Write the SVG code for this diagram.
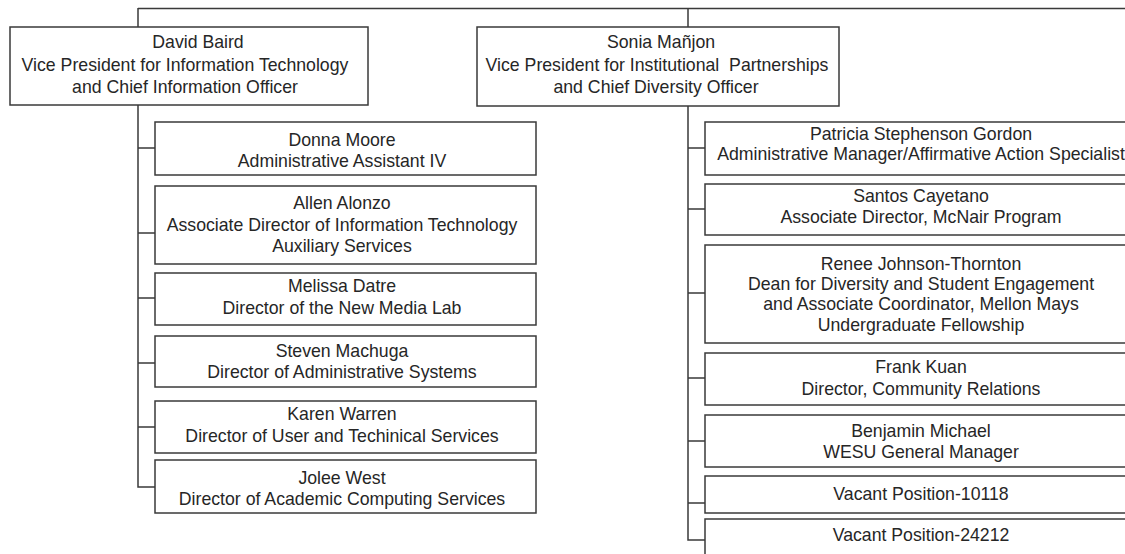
<svg xmlns="http://www.w3.org/2000/svg" width="1125" height="554" viewBox="0 0 1125 554">
<style>
.box{fill:#fff;stroke:#3a3a3a;stroke-width:1.5}
.ln{fill:none;stroke:#3a3a3a;stroke-width:1.5}
text{font-family:"Liberation Sans",Arial,sans-serif;font-size:17.7px;fill:#262626;text-anchor:middle}
</style>
<rect width="1125" height="554" fill="#fff"/>
<g id="connectors">
<path class="ln" d="M138 8.5H1130M138 8V27M688 8V27"/>
<path class="ln" d="M138 105V487H155M138 148H155M138 233H155M138 298H155M138 363H155M138 427H155"/>
<path class="ln" d="M688 106V540H705M688 148H705M688 209H705M688 293H705M688 378H705M688 441H705M688 503H705"/>
</g>
<g id="david"><rect class="box" x="10" y="27" width="358" height="78"/>
<text x="198" y="48">David Baird</text><text x="185" y="71">Vice President for Information Technology</text><text x="185" y="93">and Chief Information Officer</text></g>
<g id="sonia"><rect class="box" x="477" y="27" width="362" height="79"/>
<text x="661" y="48">Sonia Mañjon</text><text x="657" y="71" xml:space="preserve">Vice President for Institutional  Partnerships</text><text x="656" y="93">and Chief Diversity Officer</text></g>
<g id="donna"><rect class="box" x="155" y="122" width="381" height="53"/>
<text x="342" y="146">Donna Moore</text><text x="342" y="167">Administrative Assistant IV</text></g>
<g id="allen"><rect class="box" x="155" y="186" width="381" height="78"/>
<text x="342" y="209">Allen Alonzo</text><text x="342" y="231">Associate Director of Information Technology</text><text x="342" y="252">Auxiliary Services</text></g>
<g id="melissa"><rect class="box" x="155" y="273" width="381" height="52"/>
<text x="342" y="292">Melissa Datre</text><text x="342" y="314">Director of the New Media Lab</text></g>
<g id="steven"><rect class="box" x="155" y="336" width="381" height="51"/>
<text x="342" y="357">Steven Machuga</text><text x="342" y="378">Director of Administrative Systems</text></g>
<g id="karen"><rect class="box" x="155" y="401" width="381" height="52"/>
<text x="342" y="420">Karen Warren</text><text x="342" y="442">Director of User and Techinical Services</text></g>
<g id="jolee"><rect class="box" x="155" y="460" width="381" height="53"/>
<text x="342" y="484">Jolee West</text><text x="342" y="505">Director of Academic Computing Services</text></g>
<g id="patricia"><rect class="box" x="705" y="122" width="440" height="53"/>
<text x="921" y="140">Patricia Stephenson Gordon</text><text x="921" y="160">Administrative Manager/Affirmative Action Specialist</text></g>
<g id="santos"><rect class="box" x="705" y="184" width="440" height="51"/>
<text x="921" y="202">Santos Cayetano</text><text x="921" y="223">Associate Director, McNair Program</text></g>
<g id="renee"><rect class="box" x="705" y="245" width="440" height="98"/>
<text x="921" y="270">Renee Johnson-Thornton</text><text x="921" y="290">Dean for Diversity and Student Engagement</text><text x="921" y="310">and Associate Coordinator, Mellon Mays</text><text x="921" y="331">Undergraduate Fellowship</text></g>
<g id="frank"><rect class="box" x="705" y="353" width="440" height="52"/>
<text x="921" y="373">Frank Kuan</text><text x="921" y="395">Director, Community Relations</text></g>
<g id="benjamin"><rect class="box" x="705" y="415" width="440" height="52"/>
<text x="921" y="437">Benjamin Michael</text><text x="921" y="458">WESU General Manager</text></g>
<g id="vacant10118"><rect class="box" x="705" y="476" width="440" height="37"/>
<text x="921" y="500">Vacant Position-10118</text></g>
<g id="vacant24212"><rect class="box" x="705" y="519" width="440" height="50"/>
<text x="921" y="541">Vacant Position-24212</text></g>
</svg>
